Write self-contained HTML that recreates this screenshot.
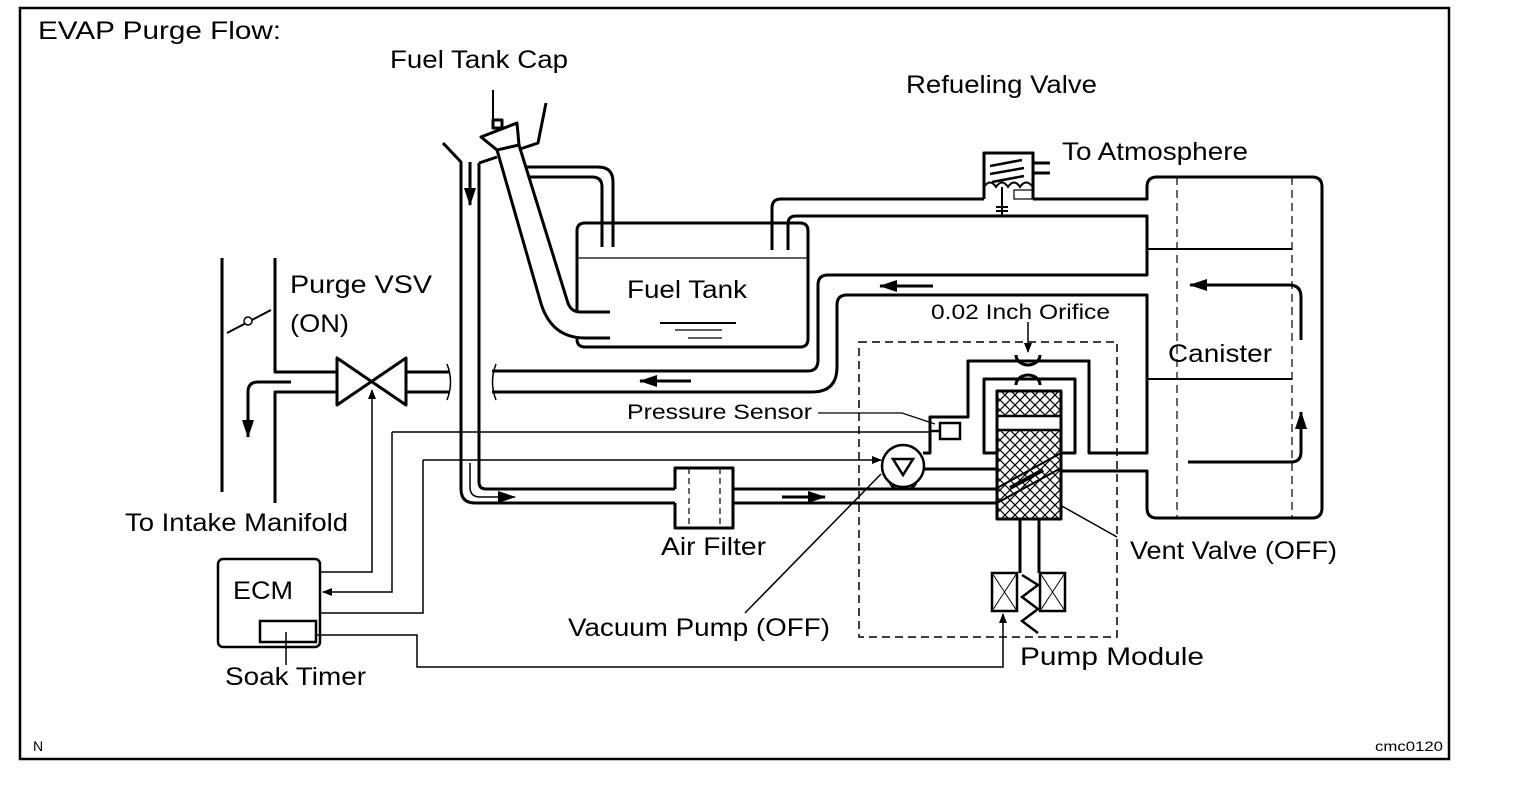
<!DOCTYPE html>
<html><head><meta charset="utf-8"><style>
html,body{margin:0;padding:0;background:#fff;}
svg{display:block;}
text{font-family:"Liberation Sans",Arial,sans-serif;fill:#000;}
</style></head><body>
<svg width="1520" height="812" viewBox="0 0 1520 812" xmlns="http://www.w3.org/2000/svg">
<defs>
<pattern id="hx" width="10" height="10" patternUnits="userSpaceOnUse">
<path d="M0,0L10,10M10,0L0,10" stroke="#000" stroke-width="1.2"/>
</pattern>
<marker id="ah" markerWidth="10" markerHeight="8" refX="9" refY="4" orient="auto" markerUnits="userSpaceOnUse"><path d="M0,0L10,4L0,8z" fill="#000"/></marker>
<marker id="ahb" markerWidth="18" markerHeight="12" refX="17" refY="6" orient="auto" markerUnits="userSpaceOnUse"><path d="M0,0L18,6L0,12z" fill="#000"/></marker>
</defs>
<rect x="0" y="0" width="1520" height="812" fill="#fff"/>
<rect x="20" y="8" width="1429" height="751" fill="none" stroke="#000" stroke-width="2.5"/>

<g font-size="25">
<text x="38" y="39" textLength="243" lengthAdjust="spacingAndGlyphs">EVAP Purge Flow:</text>
<text x="390" y="68" textLength="178" lengthAdjust="spacingAndGlyphs">Fuel Tank Cap</text>
<text x="906" y="93" textLength="191" lengthAdjust="spacingAndGlyphs">Refueling Valve</text>
<text x="1062" y="160" textLength="186" lengthAdjust="spacingAndGlyphs">To Atmosphere</text>
<text x="290" y="293" textLength="142" lengthAdjust="spacingAndGlyphs">Purge VSV</text>
<text x="290" y="332" textLength="59" lengthAdjust="spacingAndGlyphs">(ON)</text>
<text x="627" y="298" textLength="120" lengthAdjust="spacingAndGlyphs">Fuel Tank</text>
<text x="1168" y="362" textLength="104" lengthAdjust="spacingAndGlyphs">Canister</text>
<text x="125" y="531" textLength="223" lengthAdjust="spacingAndGlyphs">To Intake Manifold</text>
<text x="661" y="555" textLength="105" lengthAdjust="spacingAndGlyphs">Air Filter</text>
<text x="1130" y="559" textLength="207" lengthAdjust="spacingAndGlyphs">Vent Valve (OFF)</text>
<text x="233" y="599" textLength="60" lengthAdjust="spacingAndGlyphs">ECM</text>
<text x="568" y="636" textLength="262" lengthAdjust="spacingAndGlyphs">Vacuum Pump (OFF)</text>
<text x="1020" y="665" textLength="184" lengthAdjust="spacingAndGlyphs">Pump Module</text>
<text x="225" y="685" textLength="141" lengthAdjust="spacingAndGlyphs">Soak Timer</text>
</g>
<text x="931" y="319" font-size="21" textLength="179" lengthAdjust="spacingAndGlyphs">0.02 Inch Orifice</text>
<text x="627" y="419" font-size="21" textLength="185" lengthAdjust="spacingAndGlyphs">Pressure Sensor</text>
<text x="33" y="751" font-size="14">N</text>
<text x="1375" y="751" font-size="14" textLength="68" lengthAdjust="spacingAndGlyphs">cmc0120</text>

<g fill="none" stroke="#000" stroke-width="3" stroke-linejoin="round">
<path d="M443,143L461,162L461,489Q461,503 475,503L675,503"/>
<path d="M479,163L497,157"/>
<path d="M479,163L479,482Q479,489 486,489L675,489"/>
<path d="M481,137L517,123L519,145L497,150Z"/>
<rect x="493" y="120" width="9" height="8"/>
<path d="M546,103L538,143L520,149"/>
<path d="M497,150L540,300Q550,338 585,338L610,338"/>
<path d="M519,145L567,300Q570,312 580,312L610,312"/>
<path d="M526,167L598,167Q613,167 613,182L613,247"/>
<path d="M530,177L592,177Q602,177 602,187L602,247"/>
<path d="M577,312L577,231Q577,223 585,223L800,223Q808,223 808,231L808,339Q808,347 800,347L585,347Q577,347 577,339"/>
<path d="M772,250L772,208Q772,199 781,199L984,199"/>
<path d="M788,250L788,224Q788,216 796,216L1147,216L1147,275L828,275Q818,275 818,285L818,360Q818,371 808,371L492,371"/>
<path d="M1033,199L1147,199L1147,187Q1147,177 1157,177L1312,177Q1322,177 1322,187L1322,508Q1322,518 1312,518L1157,518Q1147,518 1147,508L1147,471L1061,471"/>
<path d="M492,392L812,392Q837,392 837,367L837,305Q837,295 847,295L1147,295L1147,453L1089,453L1089,361L968,361L968,417L930,417L930,453L923,453"/>
<path d="M1061,453L1075,453L1075,379L984,379L984,453L997,453"/>
<path d="M984,199L984,153L1033,153L1033,199"/>
<path d="M1033,163L1050,163M1033,173L1050,173"/>
<path d="M222,258L222,492"/>
<path d="M275,258L275,372L337,372"/>
<path d="M337,392L275,392L275,503"/>
<path d="M406,372L450,372M406,392L450,392"/>
<path d="M337,358L337,405L406,358L406,405Z"/>
<path d="M291,382L258,382Q248,382 248,392L248,420"/>
<path d="M675,489L675,468L733,468L733,528L675,528L675,503"/>
<path d="M733,489L997,489M733,503L997,503"/>
<rect x="997" y="391" width="64" height="128"/>
</g>
<g fill="none" stroke="#000" stroke-width="1.5">
<path d="M447,364Q454,382 447,400"/><path d="M496,364Q489,382 496,400"/>
</g>
<rect x="998" y="392" width="62" height="24" fill="url(#hx)"/>
<rect x="998" y="430" width="62" height="88" fill="url(#hx)"/>
<g stroke="#000" fill="none">
<path d="M997,416L1061,416M997,430L1061,430" stroke-width="2.5"/>
<path d="M997,488L1061,453M997,503L1061,468" stroke-width="2"/>
<path d="M1010,488L1043,470" stroke-width="4"/>
<path d="M1020,519L1020,573M1039,519L1039,573" stroke-width="3"/>
<rect x="992" y="573" width="25" height="38" stroke-width="2.5"/>
<rect x="1040" y="573" width="25" height="38" stroke-width="2.5"/>
<path d="M992,573L1017,611M1017,573L992,611M1040,573L1065,611M1065,573L1040,611" stroke-width="1"/>
<path d="M1022,575L1038,585L1022,597L1038,609L1022,621L1038,633" stroke-width="2.5"/>
<path d="M1028,322L1028,352" stroke-width="1.5" marker-end="url(#ah)"/>
<path d="M1016,355A12,10 0 0 0 1040,355" stroke-width="3"/>
<path d="M1016,385A12,10 0 0 1 1040,385" stroke-width="3"/>
<rect x="859" y="342" width="258" height="295" stroke-width="1.5" stroke-dasharray="8,5"/>
<path d="M1177,177L1177,518M1292,177L1292,518" stroke-width="1.2" stroke-dasharray="8,5"/>
<path d="M1147,249L1292,249M1147,379L1292,379" stroke-width="2"/>
<path d="M689,468L689,528M720,468L720,528" stroke-width="1.2" stroke-dasharray="6,4"/>
<path d="M577,258L808,258" stroke-width="1.2"/>
<path d="M660,323L736,323" stroke-width="2"/>
<path d="M675,330L722,330M688,338L722,338" stroke-width="1.2"/>
<path d="M493,120L493,90" stroke-width="2"/>
<path d="M990,166L1022,160M990,174L1024,168M992,182L1024,176" stroke-width="2.5"/>
<path d="M984,187Q990,178 996,187Q1002,178 1008,187Q1014,178 1020,187Q1026,178 1033,187" stroke-width="2"/>
<path d="M1002,187L1002,216M996,207L1008,207M996,211L1008,211" stroke-width="2"/>
<rect x="1014" y="190" width="19" height="9" stroke-width="1.2"/>
<circle cx="903" cy="466" r="21" stroke-width="2.5"/>
<path d="M893,459L913,459L903,475Z" stroke-width="2.5"/>
<path d="M890,483Q893,489 898,489M916,483Q913,489 908,489" stroke-width="2.5"/>
<path d="M924,469L997,469" stroke-width="3"/>
<rect x="940" y="423" width="20" height="16" stroke-width="2.5"/>
<path d="M930,431L940,431" stroke-width="2.5"/>
<path d="M392,432L930,432" stroke-width="1.5"/>
<path d="M392,432L392,592L323,592" stroke-width="1.5" marker-end="url(#ah)"/>
<path d="M423,460L881,460" stroke-width="1.5" marker-end="url(#ah)"/>
<path d="M423,460L423,613L320,613" stroke-width="1.5"/>
<path d="M320,572L372,572L372,390" stroke-width="1.5" marker-end="url(#ah)"/>
<path d="M316,635L417,635L417,667L1003,667L1003,614" stroke-width="1.5" marker-end="url(#ah)"/>
<path d="M818,413L902,413L935,424" stroke-width="1.2"/>
<path d="M881,474L745,613" stroke-width="1.5"/>
<path d="M1060,505L1117,537" stroke-width="1.5"/>
<path d="M286,632L286,665" stroke-width="1.5"/>
<path d="M227,333L271,310" stroke-width="2"/>
<circle cx="248" cy="321" r="4" fill="#fff" stroke-width="1.5"/>
<rect x="218" y="559" width="102" height="88" rx="5" stroke-width="2.5"/>
<rect x="260" y="621" width="56" height="21" stroke-width="2.5"/>
<path d="M470,162L470,205" stroke-width="3" marker-end="url(#ahb)"/>
<path d="M470,463L470,487Q470,497 480,497L515,497" stroke-width="1.5" marker-end="url(#ahb)"/>
<path d="M782,497L825,497" stroke-width="3" marker-end="url(#ahb)"/>
<path d="M691,381L640,381" stroke-width="3" marker-end="url(#ahb)"/>
<path d="M933,286L880,286" stroke-width="3" marker-end="url(#ahb)"/>
<path d="M1301,340L1301,297Q1301,285 1289,285L1190,285" stroke-width="3" marker-end="url(#ahb)"/>
<path d="M1188,462L1291,462Q1301,462 1301,452L1301,412" stroke-width="3" marker-end="url(#ahb)"/>
<path d="M248,410L248,437" stroke-width="3" marker-end="url(#ahb)"/>
</g>
</svg>
</body></html>
